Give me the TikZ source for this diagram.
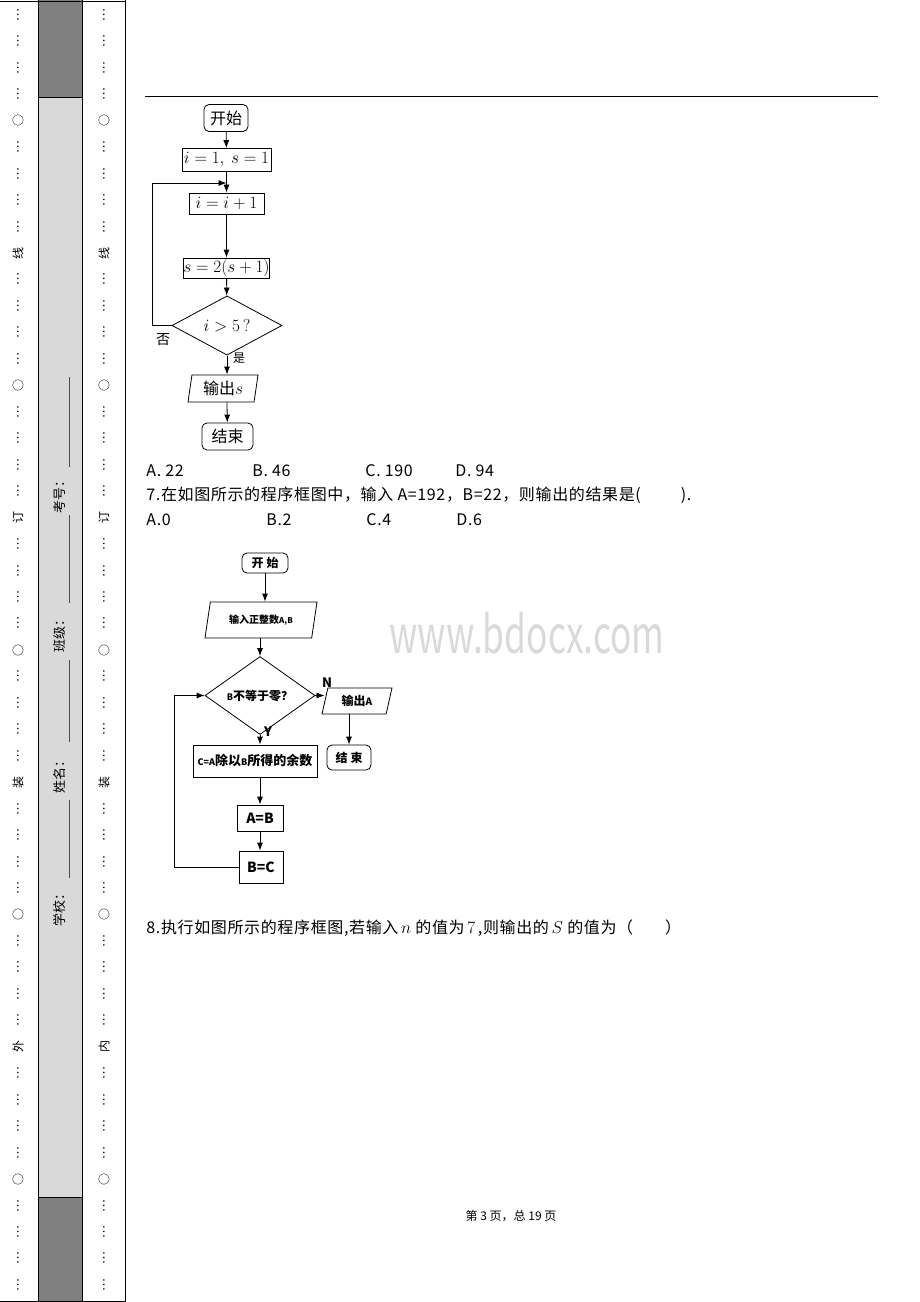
\documentclass[tikz,border=0pt]{standalone}
\usepackage[no-math]{fontspec}
\setmainfont{Noto Sans CJK SC}
\newfontfamily\bodyfont[LetterSpace=4]{Noto Sans CJK SC}
\usetikzlibrary{arrows.meta,shapes.geometric}

\tikzset{
 dotmark/.style={rotate=90,inner sep=0pt,font=\fontsize{12}{12}\selectfont},
 fieldname/.style={rotate=90,inner sep=0pt,font=\fontsize{13}{13}\selectfont},
 txt/.style={anchor=west,inner sep=0pt,font=\fontsize{16}{16}\bodyfont},
 box/.style={draw,rectangle,inner sep=0pt},
 term/.style={draw,rectangle,rounded corners=5pt,inner sep=0pt},
 cond/.style={draw,diamond,inner sep=0pt},
 io/.style={draw,trapezium,trapezium stretches body,inner sep=0pt},
 fa/.style={font=\fontsize{16}{16}\selectfont},
 fm/.style={font=\fontsize{17}{17}\selectfont},
 fb/.style={font=\fontsize{12}{12}\selectfont\bfseries},
}

\begin{document}
\begin{tikzpicture}[x=1pt,y=-1pt,>={Latex[length=8pt,width=6pt]},line width=0.8pt]
\useasboundingbox (0,0) rectangle (920,1302);

% binding strip
\fill[gray!30] (38,97) rectangle (82,1197);
\fill[gray] (38,0) rectangle (82,97);
\fill[gray] (38,1197) rectangle (82,1302);
\draw (0,1) -- (125,1);
\draw (0,1301) -- (125,1301);
\draw (38,0) -- (38,1302);
\draw (82,0) -- (82,1302);
\draw (125,0) -- (125,1302);
\draw (38,97) -- (82,97);
\draw (38,1197) -- (82,1197);

\foreach \i in {0,...,48}{
 \pgfmathtruncatemacro\r{mod(\i,10)}
 \pgfmathsetmacro\yy{15+26.46*\i}
 \ifnum\r=9\relax\else
  \ifnum\r=4 \def\mk{○}\else\def\mk{…}\fi
  \node[dotmark] (o\i) at (18,\yy) {\mk};
  \node[dotmark] (n\i) at (104,\yy) {\mk};
 \fi
}
\foreach \k/\a/\b in {0/线/线,1/订/订,2/装/装,3/外/内}{
 \pgfmathsetmacro\yy{15+26.46*(10*\k+9)}
 \node[dotmark] (oc\k) at (18,\yy) {\a};
 \node[dotmark] (nc\k) at (104,\yy) {\b};
}

% fields
\node[fieldname] (school) at (60,907) {学校：};
\node[fieldname] (name) at (60,774) {姓名：};
\node[fieldname] (class) at (60,633) {班级：};
\node[fieldname] (number) at (60,494) {考号：};
\draw[black!70] (69,800) -- (69,878);
\draw[black!70] (69,660) -- (69,742);
\draw[black!70] (69,515) -- (69,603);
\draw[black!70] (69,377) -- (69,467);

\draw (145,96) -- (878,96);

% first chart
\node[term,fa,minimum width=44,minimum height=27] (s1) at (226,118) {开始};
\node[box,fm,minimum width=89,minimum height=23] (init1) at (226.5,160) {$i=1,\ s=1$};
\node[box,fm,minimum width=75,minimum height=21] (inc1) at (226.5,203.5) {$i=i+1$};
\node[box,fm,minimum width=85,minimum height=20] (upd1) at (226.5,268) {$s=2(s+1)$};
\node[cond,fa,minimum width=110,minimum height=47] (ask1) at (227,325.5) {$i>5\,?$};
\node[io,fa,trapezium left angle=75,trapezium right angle=105,minimum width=70,minimum height=27] (out1) at (223,388.5) {输出$s$};
\node[term,fa,minimum width=51,minimum height=27] (end1) at (227.5,436.5) {结束};
\coordinate (join1) at (226.5,183);
\node[font=\fontsize{14}{14}\selectfont] (no1) at (163,340) {否};
\node[font=\fontsize{12}{12}\selectfont] (yes1) at (239,358) {是};

\draw[->] (s1) -- (init1);
\draw[->] (init1) -- (inc1);
\draw[->] (inc1) -- (upd1);
\draw[->] (upd1) -- (ask1);
\draw[->] (ask1) -- (out1.north -| ask1.south);
\draw[->] (out1.south -| ask1.south) -- (end1);
\draw[->] (ask1.west) -- ++(-19,0) |- (join1);

\node[txt] (a6) at (146,471) {A. 22};
\node[txt] (b6) at (252,471) {B. 46};
\node[txt] (c6) at (365,471) {C. 190};
\node[txt] (d6) at (455,471) {D. 94};
\node[txt] (q7) at (146,495) {7.在如图所示的程序框图中，输入 A=192，B=22，则输出的结果是(\hspace{2.5em}).};
\node[txt] (a7) at (146,520) {A.0};
\node[txt] (b7) at (266,520) {B.2};
\node[txt] (c7) at (366,520) {C.4};
\node[txt] (d7) at (456,520) {D.6};

% second chart
\node[text=black!15,font=\fontsize{52}{52}\selectfont,xscale=0.68] (wm) at (527,633) {www.bdocx.com};
\node[term,fb,minimum width=46,minimum height=20] (s2) at (265,563) {开\hspace{3pt}始};
\node[io,trapezium left angle=63,trapezium right angle=117,minimum width=112,minimum height=36,font=\fontsize{10}{10}\selectfont\bfseries] (in2) at (261,620) {输入正整数{\fontsize{8}{8}\selectfont A,B}};
\node[cond,fb,minimum width=110,minimum height=53] (ask2) at (260,695.5) {{\fontsize{9}{9}\selectfont B}不等于零？};
\node[io,fb,trapezium left angle=63,trapezium right angle=117,minimum width=70,minimum height=26] (out2) at (357,701) {输出{\fontsize{10}{10}\selectfont A}};
\node[term,fb,minimum width=44,minimum height=25] (end2) at (349,757.5) {结\hspace{3pt}束};
\node[box,font=\fontsize{13}{13}\selectfont\bfseries,minimum width=124,minimum height=32] (calc2) at (255,761) {{\fontsize{9}{9}\selectfont C=A}除以{\fontsize{9}{9}\selectfont B}所得的余数};
\node[box,font=\fontsize{14}{14}\selectfont\bfseries,minimum width=46,minimum height=26] (ab2) at (260,818) {A=B};
\node[box,font=\fontsize{14}{14}\selectfont\bfseries,minimum width=44,minimum height=32] (bc2) at (261,867) {B=C};
\node[font=\fontsize{13}{13}\selectfont\bfseries] (n2) at (327,683) {N};
\node[font=\fontsize{13}{13}\selectfont\bfseries] (y2) at (268,732) {Y};

\draw[->] (s2.south) -- (s2.south |- in2.north);
\draw[->] (ask2.north |- in2.south) -- (ask2.north);
\draw[->] (ask2.south) -- (ask2.south |- calc2.north);
\draw[->] (ab2.north |- calc2.south) -- (ab2.north);
\draw[->] (ab2.south) -- (ab2.south |- bc2.north);
\draw[->] (bc2.west) -- ++(-64,0) |- (ask2.west);
\draw[->] (ask2.east) -- (out2.west |- ask2.east);
\draw[->] (end2.north |- out2.south) -- (end2.north);

\node[txt] (q8) at (146,928) {8.执行如图所示的程序框图,若输入\,$n$ 的值为\,$7$\,,则输出的\,$S$ 的值为（\hspace{2em}）};
\node[font=\fontsize{12}{12}\selectfont] (foot) at (511,1216) {第 3 页，总 19 页};
\end{tikzpicture}
\end{document}
